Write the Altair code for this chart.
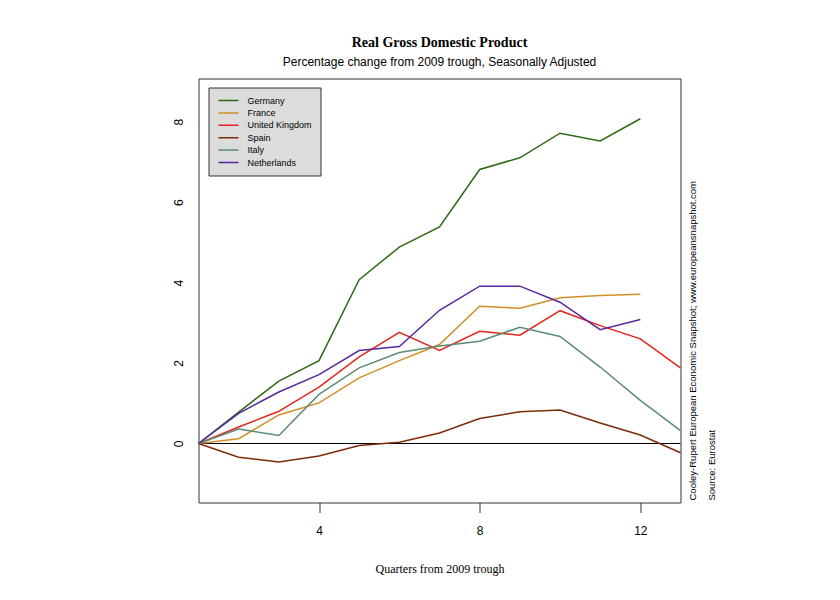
import altair as alt
import pandas as pd

quarters = list(range(1, 14))
countries = ["Germany", "France", "United Kingdom", "Spain", "Italy", "Netherlands"]
colors = ["#2e6a14", "#d18f27", "#e5251b", "#7f2a0b", "#5b8c78", "#58299e"]

germany = [0, 0.78, 1.55, 2.06, 4.07, 4.88, 5.38, 6.81, 7.10, 7.71, 7.52, 8.07, None]
france = [0, 0.12, 0.71, 1.01, 1.63, 2.06, 2.46, 3.41, 3.36, 3.62, 3.68, 3.71, None]
uk = [0, 0.41, 0.80, 1.40, 2.15, 2.76, 2.31, 2.79, 2.69, 3.30, 2.93, 2.60, 1.88]
spain = [0, -0.34, -0.46, -0.31, -0.05, 0.03, 0.26, 0.62, 0.79, 0.83, 0.51, 0.21, -0.23]
italy = [0, 0.36, 0.20, 1.22, 1.88, 2.26, 2.42, 2.54, 2.89, 2.66, 1.90, 1.07, 0.32]
netherlands = [0, 0.75, 1.28, 1.71, 2.31, 2.41, 3.31, 3.91, 3.91, 3.51, 2.83, 3.08, None]

series = [germany, france, uk, spain, italy, netherlands]
rows = []
for name, vals in zip(countries, series):
    for q, v in zip(quarters, vals):
        if v is not None:
            rows.append({"quarter": q, "value": v, "country": name})
df = pd.DataFrame(rows)

W, H = 482, 424

xscale = alt.Scale(domain=[1, 13], nice=False, zero=False)
yscale = alt.Scale(domain=[-1.466, 9.07], nice=False, zero=False)

lines = alt.Chart(df).mark_line(strokeWidth=1.5).encode(
    x=alt.X("quarter:Q", scale=xscale,
            axis=alt.Axis(values=[4, 8, 12], title="Quarters from 2009 trough",
                          grid=False, domain=False, tickSize=10, tickColor="#333",
                          labelFont="Liberation Sans", labelFontSize=12, labelColor="#000",
                          labelPadding=13, titleFont="Liberation Serif", titleFontSize=12,
                          titleFontWeight="normal", titleColor="#000", titlePadding=27)),
    y=alt.Y("value:Q", scale=yscale,
            axis=alt.Axis(values=[0, 2, 4, 6, 8], title=None, grid=False, domain=False,
                          ticks=False, labelAngle=270, labelAlign="center",
                          labelBaseline="middle", labelPadding=20,
                          labelFont="Liberation Sans", labelFontSize=12, labelColor="#000")),
    color=alt.Color("country:N",
                    scale=alt.Scale(domain=countries, range=colors),
                    sort=countries,
                    legend=alt.Legend(title=None, orient="none", legendX=10, legendY=9,
                                      fillColor="#dcdcdc", strokeColor="#333",
                                      padding=8, symbolType="stroke", symbolSize=400,
                                      symbolStrokeWidth=1.5, labelFont="Liberation Sans",
                                      labelFontSize=9, labelColor="#000", clipHeight=10,
                                      rowPadding=2.4, labelOffset=8, symbolOffset=1)),
    order=alt.Order("quarter:Q"),
)

zero = alt.Chart(pd.DataFrame({"v": [0]})).mark_rule(color="#000", strokeWidth=1).encode(
    y=alt.Y("v:Q", scale=yscale)
)

notes = pd.DataFrame({
    "text": ["Cooley-Rupert European Economic Snapshot; www.europeansnapshot.com",
             "Source: Eurostat"],
    "px": [494, 513],
})
side = alt.Chart(notes).mark_text(angle=270, align="left", baseline="middle",
                                  font="Liberation Sans", fontSize=9.5, color="#000").encode(
    x=alt.X("px:Q", scale=None),
    y=alt.value(H - 2),
    text="text:N",
)

chart = alt.layer(zero, lines, side).properties(
    width=W, height=H,
    autosize=alt.AutoSizeParams(type="none"),
    padding={"left": 190.5, "top": 70.5, "right": 130, "bottom": 80},
    background="white",
    title=alt.TitleParams(
        text="Real Gross Domestic Product",
        subtitle="Percentage change from 2009 trough, Seasonally Adjusted",
        font="Liberation Serif", fontSize=14, fontWeight="bold", color="#000",
        subtitleFont="Liberation Sans", subtitleFontSize=12, subtitleColor="#000",
        subtitlePadding=7, anchor="middle", offset=11,
    ),
).configure_view(stroke="#333", strokeWidth=1)

chart.save("out.html", embed_options={"renderer": "svg", "actions": False})
